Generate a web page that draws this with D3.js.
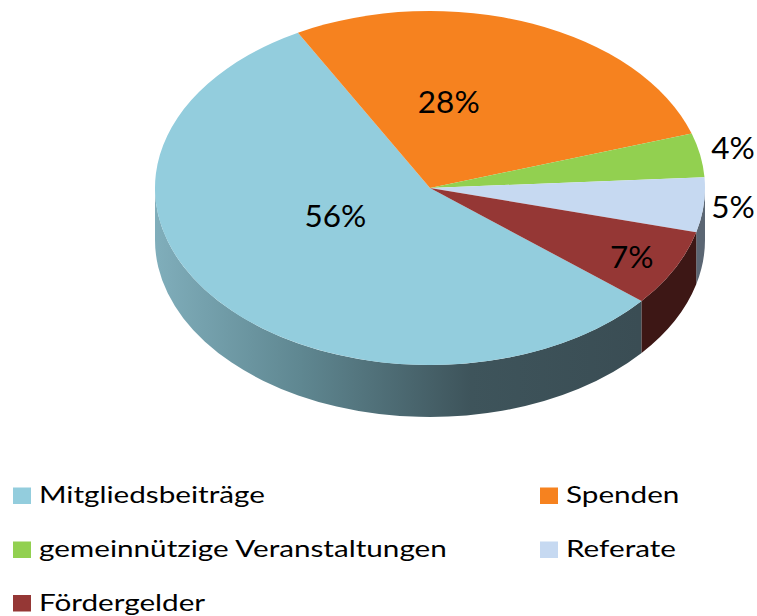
<!DOCTYPE html>
<html>
<head>
<meta charset="utf-8">
<script src="https://cdn.jsdelivr.net/npm/d3@7"></script>
<style>
  body { margin: 0; background: #fff; }
  text { font-family: Lato, "Open Sans", sans-serif; fill: #000; }
</style>
</head>
<body>
<div id="chart"></div>
<script>
// 3D pie - Einnahmen

// data
var categories = ["Mitgliedsbeiträge", "Spenden", "gemeinnützige Veranstaltungen", "Referate", "Fördergelder"];
var values = [56, 28, 4, 5, 7];
var labels = ["56%", "28%", "4%", "5%", "7%"];

// colours
var topColors = ["#93cddd", "#f6821f", "#92d050", "#c6d9f1", "#953735"];
var sideColors = ["url(#sideBlue)", "#7a4a1c", "#4d6b2a", "#5b6673", "#3d1715"];

// label placement (radius fraction, angle shift in degrees)
var labelR = [0.378, 0.49, 1.125, 1.107, 0.83];
var labelShift = [14.9, -13.7, -0.9, 0.1, 0.8];

// layout
var w = 757, h = 616;
var cx = 430, cy = 188, rx = 275, ry = 177, depth = 52;
var k = ry / rx;
var rad = Math.PI / 180;

var svg = d3.select("#chart").append("svg")
    .attr("width", w)
    .attr("height", h);

var defs = svg.append("defs");
var grad = defs.append("linearGradient")
    .attr("id", "sideBlue")
    .attr("gradientUnits", "userSpaceOnUse")
    .attr("x1", -rx).attr("x2", 210).attr("y1", 0).attr("y2", 0);
grad.append("stop").attr("offset", "0%").attr("stop-color", "#80aebb");
grad.append("stop").attr("offset", "30%").attr("stop-color", "#5f8791");
grad.append("stop").attr("offset", "65%").attr("stop-color", "#3e545b");
grad.append("stop").attr("offset", "100%").attr("stop-color", "#3a4d54");

var pie = d3.pie()
    .sort(null)
    .startAngle(129.7 * rad)
    .endAngle(129.7 * rad + 2 * Math.PI);

var arcs = pie(values);

// group in unsquashed coordinates, squashed vertically
var g = svg.append("g")
    .attr("transform", "translate(" + cx + "," + cy + ") scale(1," + k + ")");

var d = depth / k;

// side wall: only the front half (90deg .. 270deg) shows
function sidePath(a0, a1) {
    var segs = [];
    [0, 2 * Math.PI].forEach(function(off) {
        var s = Math.max(a0 - off, Math.PI / 2), e = Math.min(a1 - off, 3 * Math.PI / 2);
        if (e > s) segs.push([s, e]);
    });
    var p = d3.path();
    segs.forEach(function(sg) {
        var s = sg[0] - Math.PI / 2, e = sg[1] - Math.PI / 2;
        p.moveTo(rx * Math.cos(s), rx * Math.sin(s));
        p.arc(0, 0, rx, s, e, false);
        p.lineTo(rx * Math.cos(e), rx * Math.sin(e) + d);
        p.arc(0, d, rx, e, s, true);
        p.closePath();
    });
    return p.toString();
}

g.selectAll("path.side")
    .data(arcs)
    .enter()
    .append("path")
    .attr("class", "side")
    .attr("d", function(a) { return sidePath(a.startAngle, a.endAngle); })
    .attr("fill", function(a, i) { return sideColors[i]; });

var arc = d3.arc().innerRadius(0).outerRadius(rx);

g.selectAll("path.top")
    .data(arcs)
    .enter()
    .append("path")
    .attr("class", "top")
    .attr("d", arc)
    .attr("fill", function(a, i) { return topColors[i]; });

// data labels
svg.selectAll("text.lbl")
    .data(arcs)
    .enter()
    .append("text")
    .attr("class", "lbl")
    .attr("x", function(a, i) {
        var m = (a.startAngle + a.endAngle) / 2 + labelShift[i] * rad;
        return cx + labelR[i] * rx * Math.sin(m);
    })
    .attr("y", function(a, i) {
        var m = (a.startAngle + a.endAngle) / 2 + labelShift[i] * rad;
        return cy - labelR[i] * ry * Math.cos(m);
    })
    .attr("dy", "0.36em")
    .attr("text-anchor", "middle")
    .style("font-size", "31.5px")
    .text(function(a, i) { return labels[i]; });

// legend
var legX = [13, 540], legY = [503, 557, 610.5];
var leg = svg.selectAll("g.leg")
    .data(categories)
    .enter()
    .append("g")
    .attr("class", "leg")
    .attr("transform", function(c, i) {
        return "translate(" + legX[i % 2] + "," + legY[Math.floor(i / 2)] + ")";
    });

leg.append("rect")
    .attr("x", 0).attr("y", -15.5)
    .attr("width", 18).attr("height", 16.5)
    .attr("fill", function(c, i) { return topColors[i]; });

leg.append("text")
    .attr("transform", "translate(26,0) scale(1.29,1)")
    .style("font-size", "23px")
    .text(function(c) { return c; });
</script>
</body>
</html>
